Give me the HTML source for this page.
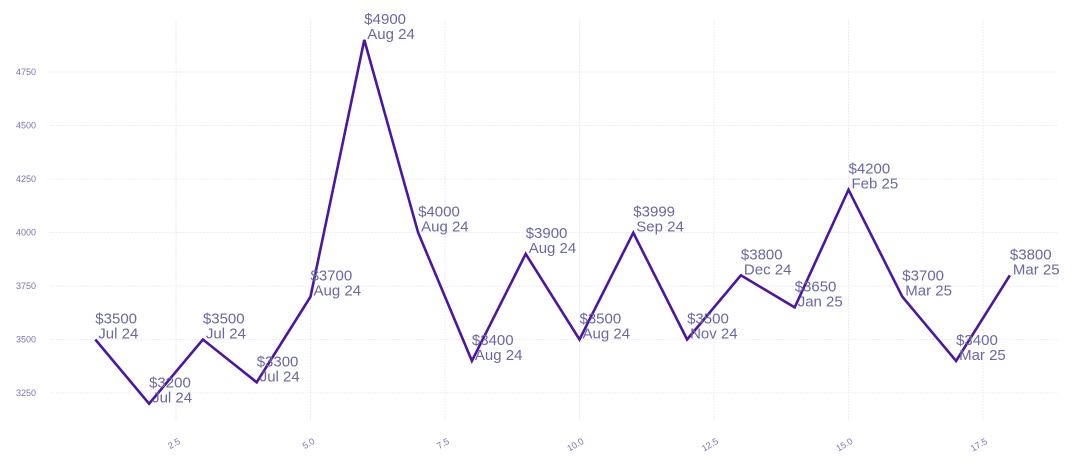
<!DOCTYPE html>
<html><head><meta charset="utf-8"><style>body{margin:0;background:#fff}svg{display:block;font-family:"Liberation Sans",sans-serif}</style></head>
<body>
<svg id="c" width="1075" height="467"></svg>
<script>
const xs=[1,2,3,4,5,6,7,8,9,10,11,12,13,14,15,16,17,18];
const prices=[3500,3200,3500,3300,3700,4900,4000,3400,3900,3500,3999,3500,3800,3650,4200,3700,3400,3800];
const months=["Jul 24","Jul 24","Jul 24","Jul 24","Aug 24","Aug 24","Aug 24","Aug 24","Aug 24","Aug 24","Sep 24","Nov 24","Dec 24","Jan 25","Feb 25","Mar 25","Mar 25","Mar 25"];
const xTicks=[2.5,5,7.5,10,12.5,15,17.5];
const xTickLabels=["2.5","5.0","7.5","10.0","12.5","15.0","17.5"];
const yTicks=[3250,3500,3750,4000,4250,4500,4750];
const NS="http://www.w3.org/2000/svg";
const svg=document.getElementById('c');
const X=v=>95.3+(v-1)*53.8;
const Y=v=>393-(v-3250)*0.214;
function el(t,a,p){const e=document.createElementNS(NS,t);for(const k in a)e.setAttribute(k,a[k]);(p||svg).appendChild(e);return e;}
yTicks.forEach(t=>{
  const g=el('line',{x1:50,x2:1057,y1:Y(t),y2:Y(t),stroke:'#ecebfb','stroke-dasharray':'2,1'});
  
  
  const l=el('text',{x:36,y:Y(t)+3,'text-anchor':'end','font-size':9,fill:'#7a74b0'});l.textContent=t;
  
  
});
xTicks.forEach((t,i)=>{
  const g=el('line',{x1:X(t),x2:X(t),y1:20,y2:420,stroke:'#ecebfb','stroke-dasharray':'2,1'});
  
  
  const l=el('text',{x:X(t)+5,y:443,'text-anchor':'end','font-size':9,fill:'#7a74b0',transform:`rotate(-30 ${X(t)+5} 443)`});l.textContent=xTickLabels[i];
  
  
});
const line=el('polyline',{points:xs.map((x,i)=>X(x)+','+Y(prices[i])).join(' '),fill:'none',stroke:'#4b16a0','stroke-width':2.6,'stroke-linejoin':'miter'});


xs.forEach((x,i)=>{
  const t=el('text',{x:X(x),y:Y(prices[i])-16,'font-size':15,fill:'#6b68a0'});
  
  
  const a=el('tspan',{x:X(x)},t);a.textContent='$'+prices[i];
  const b=el('tspan',{x:X(x)+3,dy:15},t);b.textContent=months[i];
});
</script>
</body></html>
